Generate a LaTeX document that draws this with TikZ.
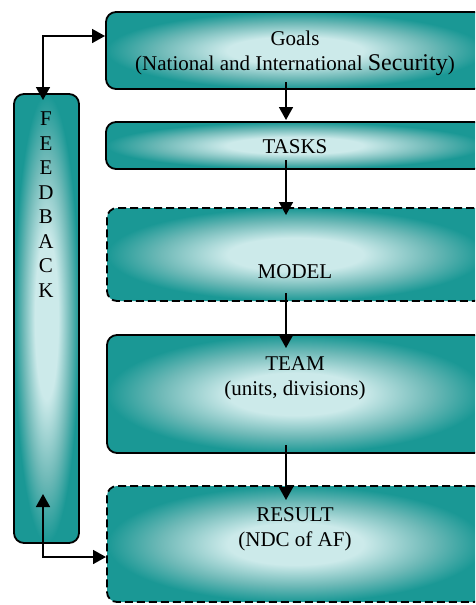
\documentclass[tikz,border=0pt]{standalone}
\usepackage{fontspec}
\setmainfont{Liberation Serif}
\usetikzlibrary{arrows.meta,calc}
\definecolor{tealedge}{RGB}{26,152,149}
\definecolor{tealmid}{RGB}{110,185,183}
\definecolor{teallight}{RGB}{204,234,234}
\pgfdeclareradialshading{boxshade}{\pgfpoint{0bp}{0bp}}{%
  color(0bp)=(teallight); color(9bp)=(teallight); color(18bp)=(tealmid);
  color(25bp)=(tealedge); color(50bp)=(tealedge)}
\begin{document}
\begin{tikzpicture}[x=1pt,y=-1pt,
  box/.style={draw=black, line width=1.8pt, rounded corners=10pt,
    shading=boxshade, anchor=north west, inner sep=0pt, outer sep=0pt},
  dbox/.style={box, dash pattern=on 8pt off 4pt},
  lbl/.style={font=\fontsize{21}{25}\selectfont, anchor=base, inner sep=0pt},
  arr/.style={line width=1.7pt, -{Triangle[length=13pt,width=14pt]}},
  darr/.style={line width=1.7pt, {Triangle[length=13pt,width=14pt]}-{Triangle[length=13pt,width=14pt]}},
]
\useasboundingbox (0,0) rectangle (475,605);
\clip (0,0) rectangle (475,605);

% boxes
\node[box, minimum width=378pt, minimum height=77pt] (goals) at (106,12) {};
\node[box, minimum width=378pt, minimum height=47pt] (tasks) at (106,122) {};
\node[dbox, minimum width=377pt, minimum height=93pt] (model) at (107,208) {};
\node[box, minimum width=377pt, minimum height=118pt] (team) at (107,335) {};
\node[dbox, minimum width=377pt, minimum height=116pt] (result) at (107,486) {};
\node[box, minimum width=65pt, minimum height=449pt] (fb) at (14,94) {};

% texts
\node[lbl] (tgoals) at (295,45) {Goals};
\node[lbl] (tgoals2) at (295,70) {(National and International {\fontsize{24}{25}\selectfont Security})};
\node[lbl] (ttasks) at (295,153) {TASKS};
\node[lbl] (tmodel) at (295,278) {MODEL};
\node[lbl] (tteam) at (295,370) {TEAM};
\node[lbl] (tteam2) at (295,395) {(units, divisions)};
\node[lbl] (tresult) at (295,521) {RESULT};
\node[lbl] (tresult2) at (295,546) {(NDC of AF)};
\node[font=\fontsize{21}{24.5}\selectfont, align=center, anchor=north, inner sep=0pt] (tfb) at (46,112)
  {F\\E\\E\\D\\B\\A\\C\\K};

% vertical flow arrows
\coordinate (ax) at (286,0);
\coordinate (fbx) at (43,0);
\draw[arr] ($(ax |- goals.south)+(0,-7)$) -- ($(ax |- tasks.north)+(0,-2)$);
\draw[arr] ($(ax |- tasks.south)+(0,-9)$) -- ($(ax |- model.north)+(0,7)$);
\draw[arr] ($(ax |- model.south)+(0,-8)$) -- ($(ax |- team.north)+(0,13)$);
\draw[arr] ($(ax |- team.south)+(0,-8)$) -- ($(ax |- result.north)+(0,14)$);

% feedback arrows
\draw[darr] ($(fbx |- fb.north)+(0,6)$) |- ($(goals.north west)+(-1,24)$);
\draw[darr] ($(fbx |- fb.south)+(0,-49)$) |- ($(result.north west)+(-1,71)$);
\end{tikzpicture}
\end{document}
